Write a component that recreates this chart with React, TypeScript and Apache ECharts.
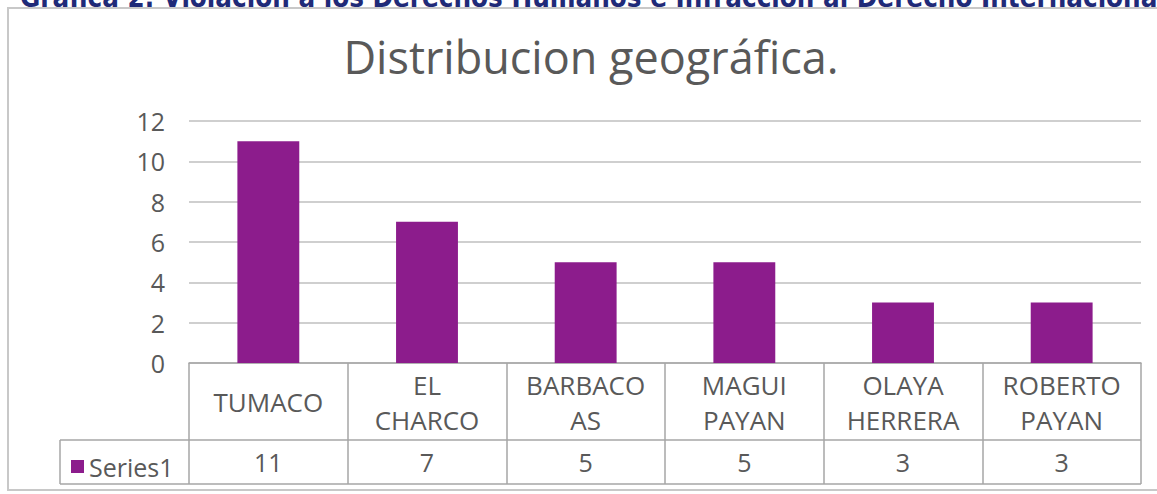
import React, { useEffect, useRef } from "react";
import * as echarts from "echarts";

const headerText = "Gráfica 2. Violación a los Derechos Humanos e Infracción al Derecho Internacional";
const chartTitle = "Distribucion geográfica.";
const categories = ["TUMACO", "EL\nCHARCO", "BARBACO\nAS", "MAGUI\nPAYAN", "OLAYA\nHERRERA", "ROBERTO\nPAYAN"];
const seriesName = "Series1";
const values = [11, 7, 5, 5, 3, 3];
const yTicks = { min: 0, max: 12, interval: 2 };

const FONT = '"Open Sans", "Noto Sans", sans-serif';
const TEXT = "#595959";
const LINE = "#a6a6a6";

export default function App() {
  const ref = useRef<HTMLDivElement>(null);
  useEffect(() => {
    if (!ref.current) return;
    const chart = echarts.init(ref.current, null, { renderer: "svg" });
    chart.setOption({
      animation: false,
      backgroundColor: "#ffffff",
      title: {
        text: chartTitle,
        left: 586,
        top: 29,
        textAlign: "center",
        textStyle: { fontFamily: FONT, fontSize: 45, fontWeight: "normal", color: TEXT },
      },
      legend: {
        data: [seriesName],
        left: 66,
        top: 449,
        icon: "rect",
        itemWidth: 13,
        itemHeight: 13,
        textStyle: { fontFamily: FONT, fontSize: 25, color: TEXT },
        selectedMode: false,
      },
      grid: { left: 189, right: 16, top: 121, bottom: 131, containLabel: false },
      xAxis: [
        {
          type: "category",
          data: categories,
          boundaryGap: true,
          axisLine: { show: true, lineStyle: { color: LINE, width: 1.5 } },
          axisTick: { show: true, interval: 0, length: 121, lineStyle: { color: LINE, width: 1.5 } },
          axisLabel: {
            interval: 0,
            margin: 39,
            verticalAlign: "middle",
            fontFamily: FONT,
            fontSize: 26,
            lineHeight: 35,
            color: TEXT,
          },
        },
        {
          type: "category",
          data: values.map(String),
          position: "bottom",
          boundaryGap: true,
          axisLine: { show: false },
          axisTick: { show: false },
          axisLabel: {
            interval: 0,
            margin: 99,
            verticalAlign: "middle",
            fontFamily: FONT,
            fontSize: 25,
            color: TEXT,
          },
        },
      ],
      yAxis: {
        type: "value",
        min: yTicks.min,
        max: yTicks.max,
        interval: yTicks.interval,
        axisLine: { show: false },
        axisTick: { show: false },
        splitLine: { show: true, lineStyle: { color: "#bfbfbf", width: 1.5 } },
        axisLabel: { margin: 24, fontFamily: FONT, fontSize: 25, color: TEXT },
      },
      series: [
        {
          name: seriesName,
          type: "bar",
          xAxisIndex: 0,
          data: values,
          barWidth: "39%",
          itemStyle: { color: "#8c1c8c" },
        },
      ],
      graphic: [
        {
          type: "rect",
          shape: { x: 8, y: 8, width: 1170, height: 482 },
          style: { fill: "none", stroke: "#c8c8c8", lineWidth: 2 },
          silent: true,
        },
        {
          type: "text",
          x: 20,
          y: -3,
          style: {
            text: headerText,
            fontFamily: '"Liberation Sans Narrow", "DejaVu Sans Condensed", "Arial Narrow", sans-serif',
            fontWeight: "bold",
            fontSize: 27.5,
            fill: "#1f2a78",
            verticalAlign: "middle",
            align: "left",
          },
          silent: true,
        },
        {
          type: "line",
          shape: { x1: 60, y1: 440, x2: 1141, y2: 440 },
          style: { stroke: LINE, lineWidth: 1.5 },
          silent: true,
        },
        {
          type: "line",
          shape: { x1: 60, y1: 484, x2: 1141, y2: 484 },
          style: { stroke: LINE, lineWidth: 1.5 },
          silent: true,
        },
        {
          type: "line",
          shape: { x1: 60, y1: 440, x2: 60, y2: 484 },
          style: { stroke: LINE, lineWidth: 1.5 },
          silent: true,
        },
      ],
    });
    return () => chart.dispose();
  }, []);
  return (
    <div
      ref={ref}
      style={{ position: "absolute", left: 0, top: 0, width: 1157, height: 494 }}
    />
  );
}
